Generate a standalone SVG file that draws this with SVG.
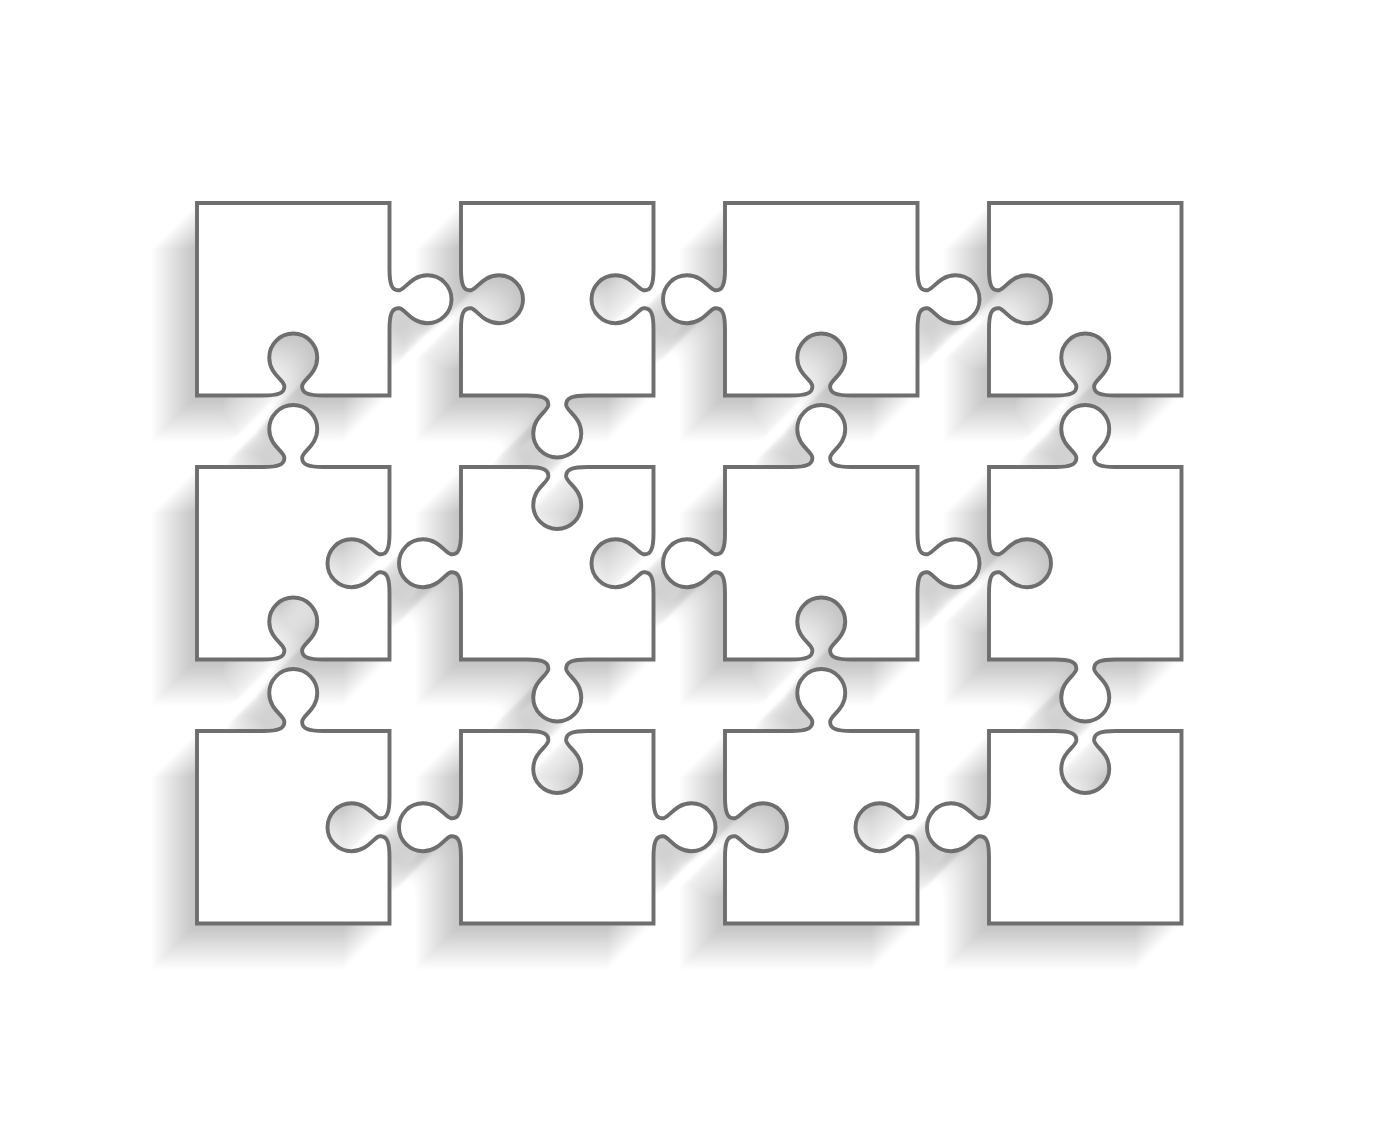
<svg xmlns="http://www.w3.org/2000/svg" xmlns:xlink="http://www.w3.org/1999/xlink" width="1380" height="1127" viewBox="0 0 1380 1127">
<style>
.piece{fill:#ffffff;stroke:#6e6e6e;stroke-width:3.9;stroke-linejoin:miter}
.sh{fill:#000000;opacity:0.015}
</style>
<defs>
<filter id="soft" x="-5%" y="-5%" width="110%" height="110%"><feGaussianBlur stdDeviation="1.3"/></filter>
<path id="s11" d="M197 203 h192.5 l0 66.25 c0 14 2 22 10 21 c6 -1 12 -15 28 -15 a24 24 0 1 1 0 48 c-16 0 -22 -14 -28 -15 c-8 -1 -10 7 -10 21 l0 66.25 l-66.25 0 c-14 0 -22 -2 -21 -10 c1 -6 15 -12 15 -28 a24 24 0 1 0 -48 0 c0 16 14 22 15 28 c1 8 -7 10 -21 10 l-66.25 0 z"/>
<path id="s12" d="M461 203 h192.5 l0 66.25 c0 14 -2 22 -10 21 c-6 -1 -12 -15 -28 -15 a24 24 0 1 0 0 48 c16 0 22 -14 28 -15 c8 -1 10 7 10 21 l0 66.25 l-66.25 0 c-14 0 -22 2 -21 10 c1 6 15 12 15 28 a24 24 0 1 1 -48 0 c0 -16 14 -22 15 -28 c1 -8 -7 -10 -21 -10 l-66.25 0 l0 -66.25 c0 -14 2 -22 10 -21 c6 1 12 15 28 15 a24 24 0 1 0 0 -48 c-16 0 -22 14 -28 15 c-8 1 -10 -7 -10 -21 z"/>
<path id="s13" d="M725 203 h192.5 l0 66.25 c0 14 2 22 10 21 c6 -1 12 -15 28 -15 a24 24 0 1 1 0 48 c-16 0 -22 -14 -28 -15 c-8 -1 -10 7 -10 21 l0 66.25 l-66.25 0 c-14 0 -22 -2 -21 -10 c1 -6 15 -12 15 -28 a24 24 0 1 0 -48 0 c0 16 14 22 15 28 c1 8 -7 10 -21 10 l-66.25 0 l0 -66.25 c0 -14 -2 -22 -10 -21 c-6 1 -12 15 -28 15 a24 24 0 1 1 0 -48 c16 0 22 14 28 15 c8 1 10 -7 10 -21 z"/>
<path id="s14" d="M989 203 h192.5 v192.5 l-66.25 0 c-14 0 -22 -2 -21 -10 c1 -6 15 -12 15 -28 a24 24 0 1 0 -48 0 c0 16 14 22 15 28 c1 8 -7 10 -21 10 l-66.25 0 l0 -66.25 c0 -14 2 -22 10 -21 c6 1 12 15 28 15 a24 24 0 1 0 0 -48 c-16 0 -22 14 -28 15 c-8 1 -10 -7 -10 -21 z"/>
<path id="s21" d="M197 467 l66.25 0 c14 0 22 -2 21 -10 c-1 -6 -15 -12 -15 -28 a24 24 0 1 1 48 0 c0 16 -14 22 -15 28 c-1 8 7 10 21 10 l66.25 0 l0 66.25 c0 14 -2 22 -10 21 c-6 -1 -12 -15 -28 -15 a24 24 0 1 0 0 48 c16 0 22 -14 28 -15 c8 -1 10 7 10 21 l0 66.25 l-66.25 0 c-14 0 -22 -2 -21 -10 c1 -6 15 -12 15 -28 a24 24 0 1 0 -48 0 c0 16 14 22 15 28 c1 8 -7 10 -21 10 l-66.25 0 z"/>
<path id="s22" d="M461 467 l66.25 0 c14 0 22 2 21 10 c-1 6 -15 12 -15 28 a24 24 0 1 0 48 0 c0 -16 -14 -22 -15 -28 c-1 -8 7 -10 21 -10 l66.25 0 l0 66.25 c0 14 -2 22 -10 21 c-6 -1 -12 -15 -28 -15 a24 24 0 1 0 0 48 c16 0 22 -14 28 -15 c8 -1 10 7 10 21 l0 66.25 l-66.25 0 c-14 0 -22 2 -21 10 c1 6 15 12 15 28 a24 24 0 1 1 -48 0 c0 -16 14 -22 15 -28 c1 -8 -7 -10 -21 -10 l-66.25 0 l0 -66.25 c0 -14 -2 -22 -10 -21 c-6 1 -12 15 -28 15 a24 24 0 1 1 0 -48 c16 0 22 14 28 15 c8 1 10 -7 10 -21 z"/>
<path id="s23" d="M725 467 l66.25 0 c14 0 22 -2 21 -10 c-1 -6 -15 -12 -15 -28 a24 24 0 1 1 48 0 c0 16 -14 22 -15 28 c-1 8 7 10 21 10 l66.25 0 l0 66.25 c0 14 2 22 10 21 c6 -1 12 -15 28 -15 a24 24 0 1 1 0 48 c-16 0 -22 -14 -28 -15 c-8 -1 -10 7 -10 21 l0 66.25 l-66.25 0 c-14 0 -22 -2 -21 -10 c1 -6 15 -12 15 -28 a24 24 0 1 0 -48 0 c0 16 14 22 15 28 c1 8 -7 10 -21 10 l-66.25 0 l0 -66.25 c0 -14 -2 -22 -10 -21 c-6 1 -12 15 -28 15 a24 24 0 1 1 0 -48 c16 0 22 14 28 15 c8 1 10 -7 10 -21 z"/>
<path id="s24" d="M989 467 l66.25 0 c14 0 22 -2 21 -10 c-1 -6 -15 -12 -15 -28 a24 24 0 1 1 48 0 c0 16 -14 22 -15 28 c-1 8 7 10 21 10 l66.25 0 v192.5 l-66.25 0 c-14 0 -22 2 -21 10 c1 6 15 12 15 28 a24 24 0 1 1 -48 0 c0 -16 14 -22 15 -28 c1 -8 -7 -10 -21 -10 l-66.25 0 l0 -66.25 c0 -14 2 -22 10 -21 c6 1 12 15 28 15 a24 24 0 1 0 0 -48 c-16 0 -22 14 -28 15 c-8 1 -10 -7 -10 -21 z"/>
<path id="s31" d="M197 731 l66.25 0 c14 0 22 -2 21 -10 c-1 -6 -15 -12 -15 -28 a24 24 0 1 1 48 0 c0 16 -14 22 -15 28 c-1 8 7 10 21 10 l66.25 0 l0 66.25 c0 14 -2 22 -10 21 c-6 -1 -12 -15 -28 -15 a24 24 0 1 0 0 48 c16 0 22 -14 28 -15 c8 -1 10 7 10 21 l0 66.25 h-192.5 z"/>
<path id="s32" d="M461 731 l66.25 0 c14 0 22 2 21 10 c-1 6 -15 12 -15 28 a24 24 0 1 0 48 0 c0 -16 -14 -22 -15 -28 c-1 -8 7 -10 21 -10 l66.25 0 l0 66.25 c0 14 2 22 10 21 c6 -1 12 -15 28 -15 a24 24 0 1 1 0 48 c-16 0 -22 -14 -28 -15 c-8 -1 -10 7 -10 21 l0 66.25 h-192.5 l0 -66.25 c0 -14 -2 -22 -10 -21 c-6 1 -12 15 -28 15 a24 24 0 1 1 0 -48 c16 0 22 14 28 15 c8 1 10 -7 10 -21 z"/>
<path id="s33" d="M725 731 l66.25 0 c14 0 22 -2 21 -10 c-1 -6 -15 -12 -15 -28 a24 24 0 1 1 48 0 c0 16 -14 22 -15 28 c-1 8 7 10 21 10 l66.25 0 l0 66.25 c0 14 -2 22 -10 21 c-6 -1 -12 -15 -28 -15 a24 24 0 1 0 0 48 c16 0 22 -14 28 -15 c8 -1 10 7 10 21 l0 66.25 h-192.5 l0 -66.25 c0 -14 2 -22 10 -21 c6 1 12 15 28 15 a24 24 0 1 0 0 -48 c-16 0 -22 14 -28 15 c-8 1 -10 -7 -10 -21 z"/>
<path id="s34" d="M989 731 l66.25 0 c14 0 22 2 21 10 c-1 6 -15 12 -15 28 a24 24 0 1 0 48 0 c0 -16 -14 -22 -15 -28 c-1 -8 7 -10 21 -10 l66.25 0 v192.5 h-192.5 l0 -66.25 c0 -14 -2 -22 -10 -21 c-6 1 -12 15 -28 15 a24 24 0 1 1 0 -48 c16 0 22 14 28 15 c8 1 10 -7 10 -21 z"/>
<g id="all">
<use href="#s11"/><use href="#s12"/><use href="#s13"/><use href="#s14"/>
<use href="#s21"/><use href="#s22"/><use href="#s23"/><use href="#s24"/>
<use href="#s31"/><use href="#s32"/><use href="#s33"/><use href="#s34"/>
</g>
</defs>
<rect width="1380" height="1127" fill="#ffffff"/>
<g id="shadows" filter="url(#soft)">
<use href="#all" class="sh" transform="translate(-3 3)"/>
<use href="#all" class="sh" transform="translate(-6 6)"/>
<use href="#all" class="sh" transform="translate(-9 9)"/>
<use href="#all" class="sh" transform="translate(-12 12)"/>
<use href="#all" class="sh" transform="translate(-15 15)"/>
<use href="#all" class="sh" transform="translate(-18 18)"/>
<use href="#all" class="sh" transform="translate(-21 21)"/>
<use href="#all" class="sh" transform="translate(-24 24)"/>
<use href="#all" class="sh" transform="translate(-27 27)"/>
<use href="#all" class="sh" transform="translate(-30 30)"/>
<use href="#all" class="sh" transform="translate(-33 33)"/>
<use href="#all" class="sh" transform="translate(-36 36)"/>
<use href="#all" class="sh" transform="translate(-39 39)"/>
<use href="#all" class="sh" transform="translate(-42 42)"/>
<use href="#all" class="sh" transform="translate(-45 45)"/>
</g>
<g id="piece-r1c1"><use href="#s11" class="piece"/></g>
<g id="piece-r1c2"><use href="#s12" class="piece"/></g>
<g id="piece-r1c3"><use href="#s13" class="piece"/></g>
<g id="piece-r1c4"><use href="#s14" class="piece"/></g>
<g id="piece-r2c1"><use href="#s21" class="piece"/></g>
<g id="piece-r2c2"><use href="#s22" class="piece"/></g>
<g id="piece-r2c3"><use href="#s23" class="piece"/></g>
<g id="piece-r2c4"><use href="#s24" class="piece"/></g>
<g id="piece-r3c1"><use href="#s31" class="piece"/></g>
<g id="piece-r3c2"><use href="#s32" class="piece"/></g>
<g id="piece-r3c3"><use href="#s33" class="piece"/></g>
<g id="piece-r3c4"><use href="#s34" class="piece"/></g>
<g id="connectors"/>
</svg>
